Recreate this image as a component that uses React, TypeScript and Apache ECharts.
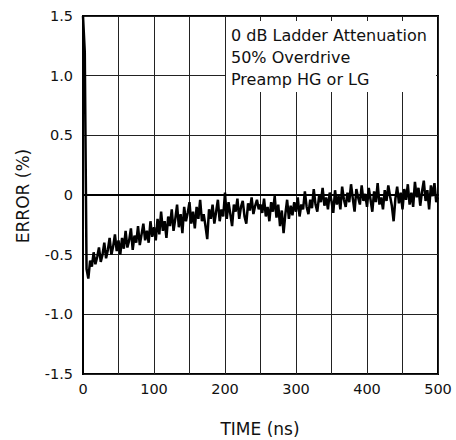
import React, { useEffect, useRef } from "react";
import * as echarts from "echarts";

// Sampling interval of the trace (ns)
const timeStepNs = 2.5;

// Error (%), one value per 2.5 ns, t = 0 … 500 ns
const errorPct0to50 = [1.5, 1.2, -0.62, -0.7, -0.55, -0.6, -0.48, -0.58, -0.52, -0.44, -0.56, -0.5, -0.4, -0.53, -0.46, -0.36, -0.5, -0.43, -0.33, -0.47];
const errorPct50to100 = [-0.38, -0.5, -0.36, -0.45, -0.3, -0.44, -0.38, -0.28, -0.46, -0.34, -0.4, -0.26, -0.42, -0.33, -0.24, -0.38, -0.3, -0.4, -0.22, -0.35];
const errorPct100to150 = [-0.27, -0.38, -0.2, -0.33, -0.14, -0.3, -0.22, -0.36, -0.18, -0.26, -0.12, -0.3, -0.2, -0.08, -0.27, -0.16, -0.32, -0.1, -0.22, -0.15];
const errorPct150to200 = [-0.06, -0.24, -0.14, -0.28, -0.1, -0.2, -0.04, -0.22, -0.16, -0.26, -0.37, -0.12, -0.2, -0.08, -0.24, -0.14, -0.04, -0.22, -0.12, -0.18];
const errorPct200to250 = [0.02, -0.2, -0.06, -0.16, -0.26, -0.08, -0.14, -0.03, -0.2, -0.1, -0.05, -0.18, -0.24, -0.07, -0.13, -0.02, -0.16, -0.09, -0.04, -0.12];
const errorPct250to300 = [-0.08, -0.15, -0.03, -0.18, -0.1, -0.22, -0.06, -0.14, -0.01, -0.19, -0.08, -0.26, -0.13, -0.32, -0.16, -0.04, -0.2, -0.09, -0.17, -0.06];
const errorPct300to350 = [-0.14, -0.02, -0.18, -0.08, -0.12, 0.03, -0.1, -0.16, -0.04, -0.11, 0.05, -0.08, -0.14, -0.01, -0.06, 0.06, -0.09, -0.02, -0.12, 0.02];
const errorPct350to400 = [-0.05, -0.15, 0.04, -0.08, -0.01, -0.12, 0.07, -0.04, -0.1, 0.02, -0.06, 0.09, -0.03, -0.14, 0.05, -0.02, -0.08, 0.08, -0.05, 0.01];
const errorPct400to450 = [-0.1, 0.06, -0.04, -0.14, 0.03, -0.06, 0.1, -0.08, -0.02, -0.12, 0.04, -0.05, 0.08, -0.01, -0.09, -0.22, -0.03, 0.07, -0.07, 0.02];
const errorPct450to500 = [-0.12, 0.05, -0.04, 0.09, -0.08, 0.02, -0.1, 0.11, -0.02, 0.06, -0.09, 0.03, 0.12, -0.05, 0.04, -0.12, 0.08, -0.01, 0.1, -0.06, -0.02];

const errorPct = [
  ...errorPct0to50,
  ...errorPct50to100,
  ...errorPct100to150,
  ...errorPct150to200,
  ...errorPct200to250,
  ...errorPct250to300,
  ...errorPct300to350,
  ...errorPct350to400,
  ...errorPct400to450,
  ...errorPct450to500,
];

const xLabelValues = [0, 100, 200, 300, 400, 500];
const annotationLines = ["0 dB Ladder Attenuation", "50% Overdrive", "Preamp HG or LG"];
const xAxisTitle = "TIME (ns)";
const yAxisTitle = "ERROR (%)";

const FONT = "'DejaVu Sans', 'Liberation Sans', Arial, sans-serif";

export default function App() {
  const ref = useRef<HTMLDivElement>(null);

  useEffect(() => {
    if (!ref.current) return;
    const chart = echarts.init(ref.current, undefined, { renderer: "svg" });
    const data = errorPct.map((v, i) => [i * timeStepNs, v]);

    chart.setOption({
      animation: false,
      backgroundColor: "#ffffff",
      grid: {
        left: 83,
        right: 18,
        top: 16,
        bottom: 66,
        show: true,
        borderColor: "#000",
        borderWidth: 2,
        backgroundColor: "transparent",
      },
      xAxis: {
        type: "value",
        min: 0,
        max: 500,
        interval: 50,
        axisLine: { show: true, lineStyle: { color: "#000", width: 2 } },
        axisTick: { show: false },
        axisLabel: {
          margin: 7,
          fontSize: 14.5,
          fontFamily: FONT,
          color: "#111",
          formatter: (v: number) => (xLabelValues.includes(v) ? String(v) : ""),
        },
        splitLine: { show: true, lineStyle: { color: "#222", width: 1 } },
      },
      yAxis: {
        type: "value",
        min: -1.5,
        max: 1.5,
        interval: 0.5,
        axisLine: { show: true, lineStyle: { color: "#000", width: 2 } },
        axisTick: { show: false },
        axisLabel: {
          margin: 10,
          fontSize: 14.5,
          fontFamily: FONT,
          color: "#111",
          formatter: (v: number) => (Math.abs(v) < 1e-9 ? "0" : v.toFixed(1)),
        },
        splitLine: { show: true, lineStyle: { color: "#222", width: 1 } },
      },
      series: [
        {
          type: "line",
          data,
          showSymbol: false,
          symbol: "none",
          lineStyle: { color: "#000", width: 2.5 },
          z: 3,
        },
      ],
      graphic: [
        {
          type: "rect",
          shape: { x: 226, y: 21, width: 210, height: 71 },
          style: { fill: "#fff" },
          z: 10,
        },
        ...annotationLines.map((t, i) => ({
          type: "text",
          x: 231,
          y: 35.5 + i * 22,
          z: 11,
          style: {
            text: t,
            fontSize: 16,
            fontFamily: FONT,
            fill: "#111",
            verticalAlign: "middle",
            align: "left",
          },
        })),
        {
          type: "text",
          x: 260,
          y: 429,
          z: 11,
          style: {
            text: xAxisTitle,
            fontSize: 17,
            fontFamily: FONT,
            fill: "#111",
            align: "center",
            verticalAlign: "middle",
          },
        },
        {
          type: "text",
          x: 23,
          y: 196,
          rotation: Math.PI / 2,
          z: 11,
          style: {
            text: yAxisTitle,
            fontSize: 17,
            fontFamily: FONT,
            fill: "#111",
            align: "center",
            verticalAlign: "middle",
          },
        },
      ],
    });

    return () => chart.dispose();
  }, []);

  return (
    <div
      ref={ref}
      style={{ position: "fixed", left: 0, top: 0, width: 456, height: 440 }}
    />
  );
}
